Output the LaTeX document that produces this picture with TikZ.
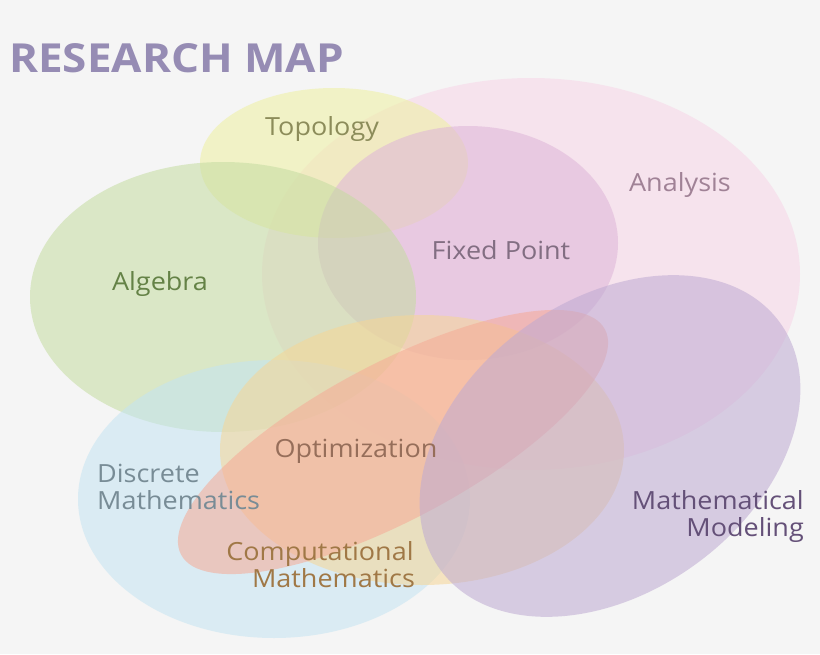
\documentclass[tikz,border=0pt]{standalone}
\usepackage{fontspec}
\setmainfont{Open Sans}
\begin{document}
\begin{tikzpicture}[x=1pt,y=-1pt,
  blob/.style={fill opacity=0.55},
  lbl/.style={font=\fontsize{25}{27}\selectfont, align=left, xscale=1.08, inner sep=0pt}]
\fill[fill=black!4] (0,0) rectangle (820,654);
\useasboundingbox (0,0) rectangle (820,654);
\fill[blob, fill={rgb,255:red,247;green,214;blue,232}] (531,274) ellipse [x radius=269, y radius=196];
\fill[blob, fill={rgb,255:red,238;green,240;blue,160}] (334,163) ellipse [x radius=134, y radius=75];
\fill[blob, fill={rgb,255:red,222;green,180;blue,216}] (468,243) ellipse [x radius=150, y radius=117];
\fill[blob, fill={rgb,255:red,196;green,220;blue,160}] (223,297) ellipse [x radius=193, y radius=135];
\fill[blob, fill={rgb,255:red,196;green,228;blue,242}] (274,499) ellipse [x radius=196, y radius=139];
\fill[blob, fill={rgb,255:red,246;green,214;blue,150}] (422,450) ellipse [x radius=202, y radius=135];
\fill[blob, fill={rgb,255:red,246;green,170;blue,150}, rotate around={28:(393,442)}] (393,442) ellipse [x radius=240, y radius=78];
\fill[blob, fill={rgb,255:red,190;green,170;blue,210}, rotate around={36:(610,446)}] (610,446) ellipse [x radius=210, y radius=146];
\node[font=\fontsize{40}{44}\selectfont\bfseries, text={rgb,255:red,150;green,140;blue,180}, anchor=west, xscale=1.1, inner sep=0pt] (title) at (9,58) {RESEARCH MAP};
\node[lbl, text={rgb,255:red,140;green,140;blue,90}] (topo) at (322,129) {Topology};
\node[lbl, text={rgb,255:red,160;green,130;blue,150}] (ana) at (680,185) {Analysis};
\node[lbl, text={rgb,255:red,130;green,110;blue,130}] (fp) at (501,250) {Fixed Point};
\node[lbl, text={rgb,255:red,100;green,130;blue,70}] (alg) at (160,284) {Algebra};
\node[lbl, text={rgb,255:red,150;green,110;blue,90}] (opt) at (356,451) {Optimization};
\node[lbl, text={rgb,255:red,120;green,140;blue,150}, anchor=west] (dm) at (97,487) {Discrete\\Mathematics};
\node[lbl, text={rgb,255:red,100;green,80;blue,120}, align=right, anchor=east] (mm) at (804,516) {Mathematical\\Modeling};
\node[lbl, text={rgb,255:red,160;green,120;blue,70}, align=center] (cm) at (320,565) {Computational\\\quad Mathematics};
\end{tikzpicture}
\end{document}
